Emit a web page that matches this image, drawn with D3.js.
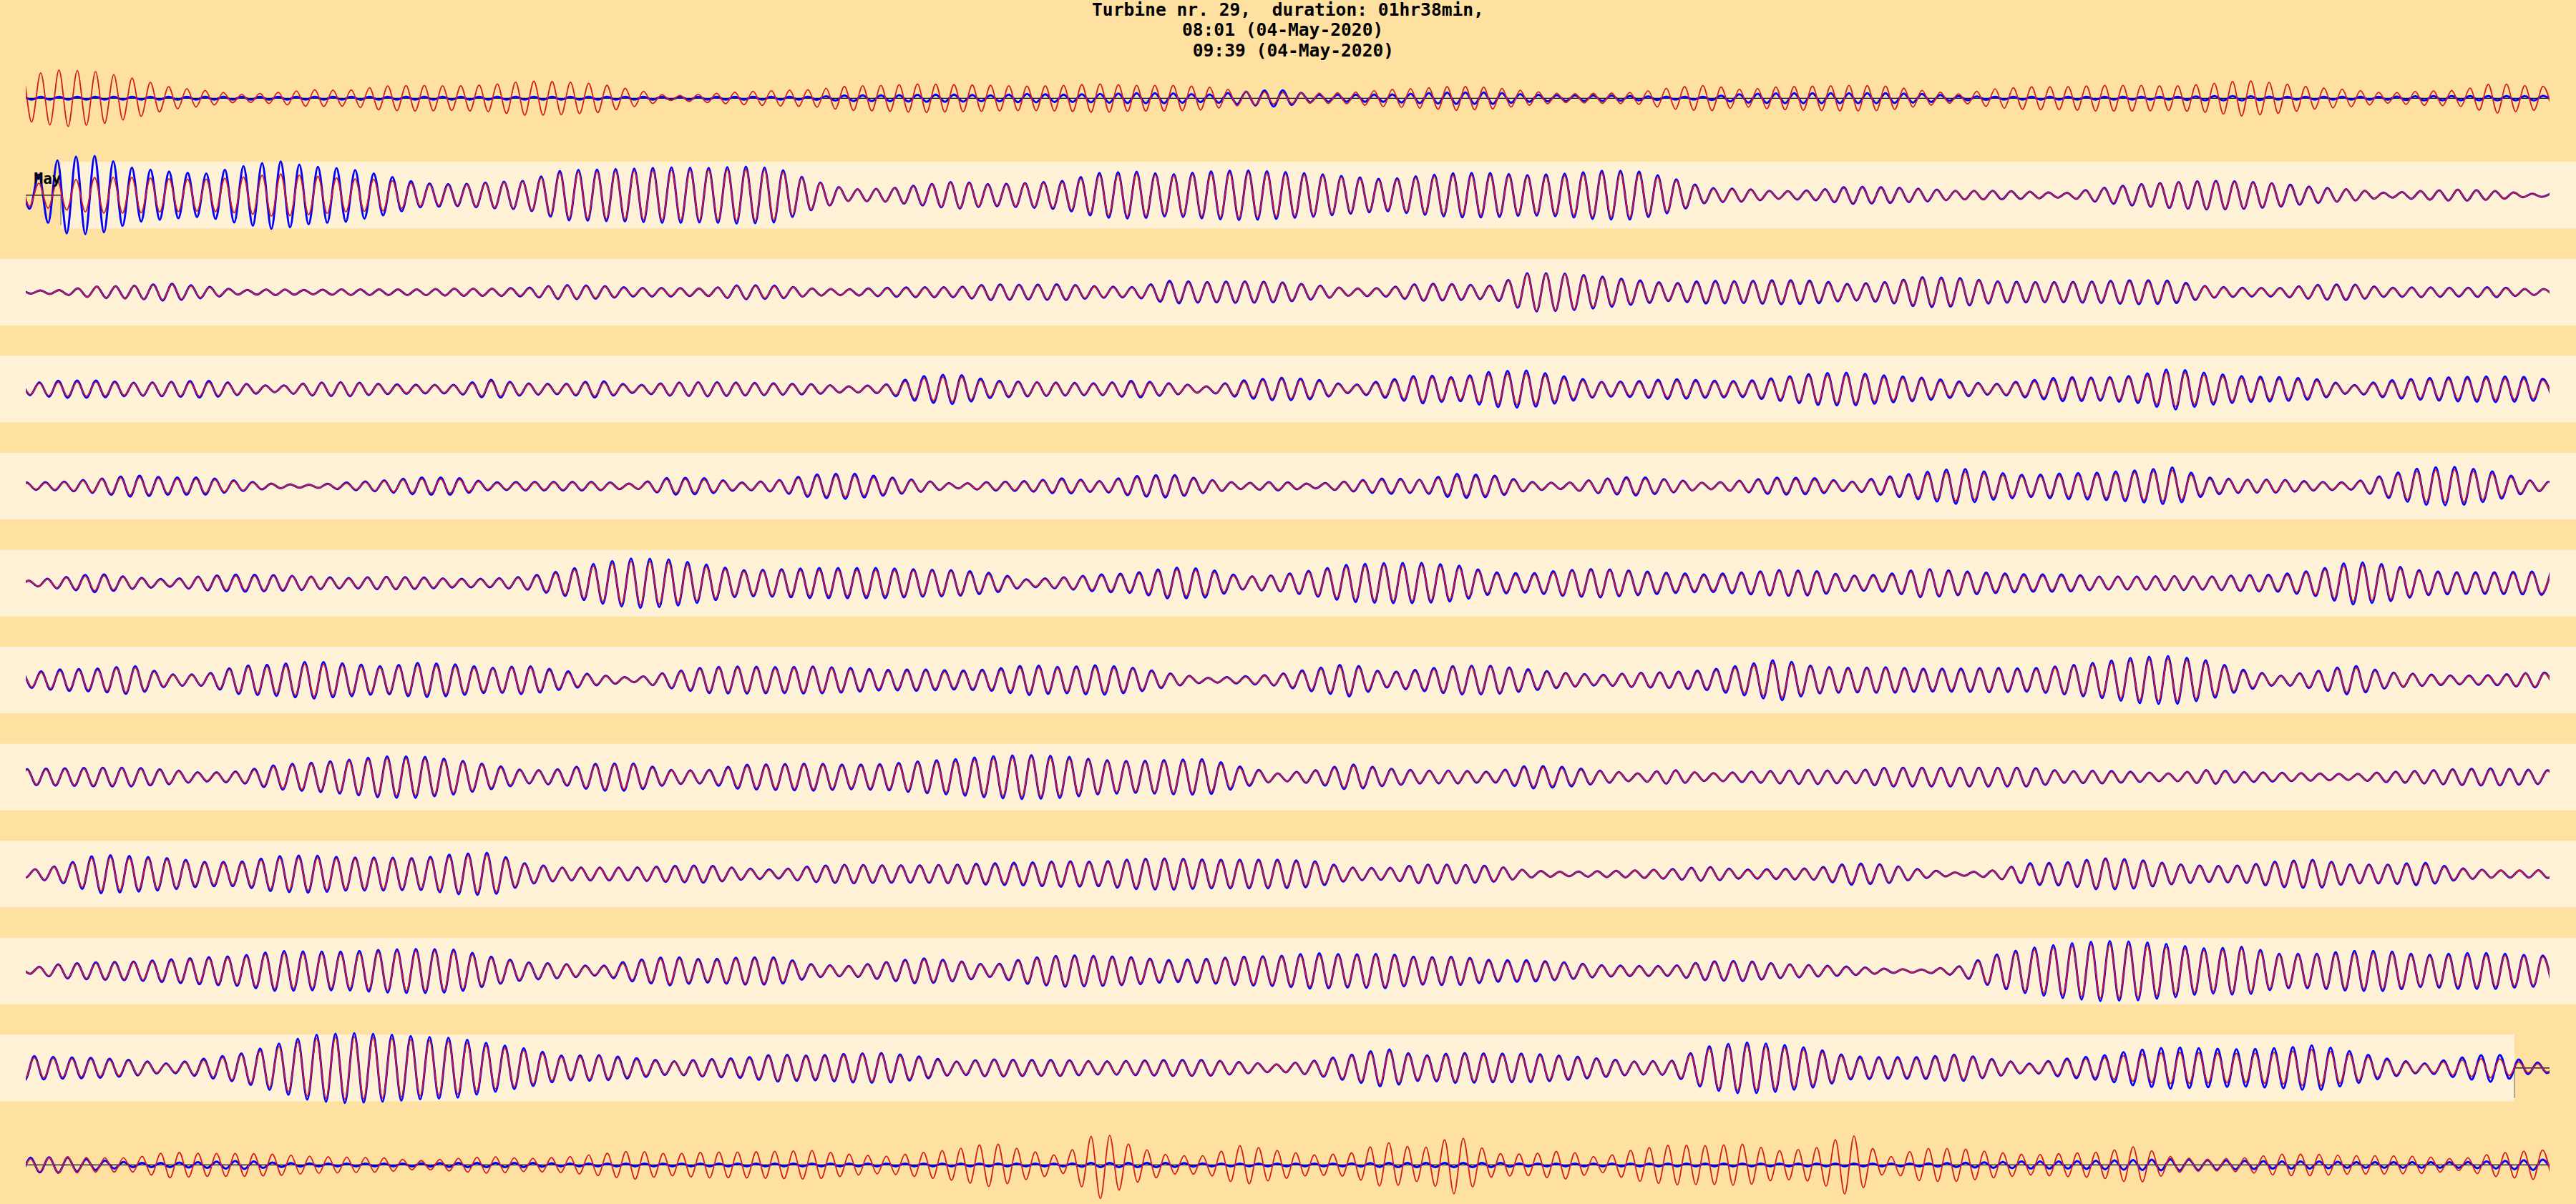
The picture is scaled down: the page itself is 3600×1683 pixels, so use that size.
<!DOCTYPE html>
<html>
<head>
<meta charset="utf-8">
<script src="https://cdn.jsdelivr.net/npm/d3@7"></script>
<style>
  html, body { margin: 0; padding: 0; background: #fee0a0; }
  svg { display: block; }
</style>
</head>
<body>
<svg id="chart" width="3600" height="1683"></svg>
<script>
// ---------------- DATA ----------------
const titleLines = ["Turbine nr. 29,  duration: 01hr38min,", "08:01 (04-May-2020) ", " 09:39 (04-May-2020)"];
const tickLabel = "May";
const rowSeconds = 590;          // seconds of record per wrapped row
const envelopeStep = 8.364;      // seconds between successive envelope readings
// wave period (s) and time of first crest (s) for each row
const periods = [4.27, 4.35, 4.4, 4.4, 4.4, 4.4, 4.4, 4.43, 4.4, 4.4, 4.4, 4.35];
const firstCrest = [3.5, 3.05, 3.4, 3.2, 0.2, 0.7, 3.6, 0.3, 2.2, 3.2, 2.0, 1.1];
// shaded record period: starts in row 1 (0-based) and ends in row 10
const bandStart = {row: 1, t: 8.2};
const bandEnd = {row: 10, t: 581.8};

// crest amplitude envelopes, red series (one reading per envelopeStep)
const redEnvelope = [
  [32,40,37,28,16,11,5,8,12,11,17,18,17,19,24,23,20,12,3,6,9,11,12,17,18,20,19,18,17,18,20,18,18,16,10,8, 7,8,12,14,17,15,10,6,7,8,15,18,12,16,17,18,17,11,6,13,16,16,18,18,17,20,25,21,15,12,7,10,11,21,17,16],
  [15,20,25,25,23,22,25,30,27,23,22,15,14,17,19,32,33,34,35,35,36,35,19,8,9,13,18,14,16,18,28,30,27,30,32,30, 28,24,20,25,28,28,26,27,31,31,22,9,8,5,6,11,10,8,6,6,5,3,9,14,17,19,18,15,10,8,3,6,8,6,2,3],
  [2,3,8,9,11,7,3,4,3,4,4,4,5,5,5,9,8,5,5,5,9,8,5,4,5,6,6,10,9,10,7,6,14,13,14,13, 9,5,5,11,10,8,26,25,20,15,11,14,14,15,14,10,13,19,18,14,13,13,14,15,14,7,5,5,9,10,5,6,5,6,4,5],
  [7,10,10,8,9,10,7,4,8,9,6,5,5,11,7,6,10,4,8,9,8,7,6,4,5,15,18,10,9,8,7,10,7,4,10,14, 12,4,10,17,14,21,22,15,9,9,12,10,9,14,19,20,16,14,9,6,10,14,14,16,25,19,15,14,12,4,10,13,14,15,14,9],
  [4,5,9,13,10,10,6,3,2,4,7,10,10,4,5,5,5,3,10,9,4,7,14,15,11,7,3,5,6,9,6,12,14,8,4,5, 3,6,9,8,14,13,5,4,9,11,8,4,7,10,9,5,11,16,21,16,13,15,16,19,22,10,8,8,5,4,14,22,23,17,7,4],
  [3,7,11,7,4,9,10,10,8,6,8,7,5,5,8,15,25,31,29,23,16,17,18,18,18,17,16,12,4,7,10,12,19,17,8,10, 16,23,25,25,22,13,11,16,18,15,12,10,13,16,15,9,10,18,15,12,10,10,8,8,9,8,10,10,16,26,23,15,13,13,14,15],
  [9,13,14,18,7,7,18,19,23,20,17,21,19,15,18,11,6,3,10,16,17,16,17,15,12,13,11,13,18,16,18,15,8,3,4,7, 14,20,9,13,18,18,13,9,6,9,10,12,18,25,17,15,16,14,14,15,14,18,22,28,30,24,12,5,11,18,10,7,5,6,9,10],
  [10,11,12,12,9,5,7,15,18,22,26,26,22,15,8,10,17,17,9,8,15,16,17,15,16,20,22,26,28,26,22,20,22,22,12,5, 8,16,11,8,8,6,14,12,8,5,9,5,6,8,9,7,12,12,12,12,12,7,8,6,5,9,6,5,5,4,6,8,10,11,9,8],
  [5,11,24,22,20,15,15,22,23,21,21,20,25,27,13,8,8,8,10,11,7,5,10,12,11,11,12,13,14,16,15,19,20,18,18,18, 16,8,7,12,12,10,5,3,4,5,6,9,5,6,7,13,12,5,2,5,13,14,20,18,13,10,11,16,18,12,12,14,7,5,5,5],
  [3,9,11,12,14,17,19,25,24,24,27,28,27,18,11,9,5,13,18,14,17,17,8,6,11,16,13,7,16,20,19,17,13,15,18,19, 22,21,22,17,18,13,13,11,7,6,6,12,13,9,7,5,3,2,5,20,29,34,38,37,33,28,31,22,22,25,25,20,22,22,20,19],
  [15,13,12,10,5,11,18,29,41,44,42,39,37,30,24,15,16,12,8,11,12,17,15,18,19,14,8,11,10,10,8,9,10,10,7,5, 9,16,24,15,19,18,18,15,12,8,9,27,32,29,24,14,13,13,17,11,5,11,14,19,22,21,20,22,26,19,11,5,11,14,6,5],
  [8,12,10,10,18,16,16,15,12,11,10,6,9,12,9,11,15,20,15,18,18,19,20,15,12,17,22,31,20,12,48,25,13,13,28,20, 14,16,32,22,42,16,15,20,10,22,28,27,29,20,23,44,10,23,23,18,14,16,18,26,11,8,10,15,15,13,13,12,8,16,20,22]
];
// crest amplitude envelopes, blue series
const blueEnvelope = [
  [2,2,2,2,2,2,2,2,2,2,2,2,2,2,2,2,2,2,2,2,2,2,2,4,4,5,5,4,6,5,6,7,7,5,9,12, 5,5,5,7,8,8,5,4,4,3,2,2,6,7,7,7,7,6,3,2,2,2,2,2,2,3,3,2,2,2,2,3,3,3,3,4],
  [15,53,55,38,33,30,40,48,40,37,28,17,15,18,20,35,36,37,39,38,40,38,20,8,9,14,19,15,17,20,31,33,29,33,35,33, 30,26,22,27,31,31,28,30,34,34,24,10,9,5,7,12,11,9,6,6,5,3,10,15,18,20,19,16,11,8,3,6,8,6,2,3],
  [2,3,8,9,12,8,3,4,3,4,4,4,5,5,6,10,9,6,6,5,10,9,5,4,6,7,7,11,10,11,8,7,16,14,15,14, 10,5,6,12,11,9,27,26,22,17,12,16,15,17,16,11,14,21,20,15,14,14,15,17,16,8,6,6,10,11,6,7,6,7,4,5],
  [8,12,12,9,10,12,8,4,9,10,7,6,6,13,8,7,12,5,9,10,9,8,7,4,6,18,21,12,10,9,8,12,8,4,12,16, 14,5,12,20,16,25,26,18,10,11,14,12,11,16,22,23,19,16,11,7,12,17,16,19,29,22,18,17,14,5,12,15,17,18,17,10],
  [5,6,10,15,12,12,7,3,2,5,8,12,12,5,6,6,6,3,12,11,5,8,16,18,13,8,3,6,7,11,7,14,16,9,4,6, 3,7,11,9,17,15,6,4,10,13,9,4,8,12,11,6,13,19,25,19,15,18,19,22,26,12,9,9,6,5,16,26,27,20,8,4],
  [3,8,13,8,5,10,12,11,9,7,9,8,6,6,9,17,28,35,33,26,18,19,21,21,21,19,18,14,5,8,12,14,22,20,9,11, 18,26,28,28,25,15,13,18,20,17,14,12,15,18,17,10,12,20,17,14,12,12,9,9,10,9,11,12,18,30,26,17,15,15,16,17],
  [10,15,16,20,8,8,20,22,26,23,19,24,22,17,20,13,7,3,11,18,19,18,19,17,14,15,13,15,21,18,21,17,9,3,5,8, 16,23,10,15,20,20,15,10,7,10,11,14,21,29,19,17,18,16,16,17,16,20,25,32,34,27,14,6,12,21,11,8,6,7,10,11],
  [11,12,13,13,10,6,8,17,20,24,29,29,24,17,9,11,19,19,10,9,17,18,19,17,18,22,25,29,31,29,24,22,24,25,14,5, 9,18,12,9,9,7,16,14,9,5,10,5,7,9,10,8,13,13,13,13,13,8,9,7,5,10,7,6,5,4,7,9,11,12,10,9],
  [5,12,27,25,22,17,17,25,26,23,23,22,28,30,14,9,9,9,11,12,8,6,11,13,12,12,13,15,16,18,17,21,22,20,20,20, 18,9,8,13,13,11,5,3,4,5,7,10,6,7,8,15,13,6,2,5,15,16,22,20,14,11,12,18,20,13,13,16,8,5,5,6],
  [3,10,12,13,16,19,21,28,27,27,30,31,30,20,12,10,6,15,20,16,19,19,9,7,12,18,14,8,18,22,21,19,15,17,20,21, 25,23,24,19,20,15,15,12,8,7,7,13,14,10,8,6,3,2,6,22,32,38,42,41,37,31,34,24,24,28,28,22,25,25,22,21],
  [17,15,14,11,6,13,20,33,46,49,47,44,42,34,27,17,18,14,9,12,14,19,17,20,21,16,9,12,11,11,9,10,11,11,8,5, 10,18,27,17,21,20,20,17,13,9,10,30,36,33,27,16,15,15,19,12,6,13,17,25,29,27,26,28,32,23,13,6,14,20,8,6],
  [10,11,7,3,3,4,6,3,2,2,2,2,3,3,3,2,2,2,2,2,2,2,2,2,2,2,2,2,2,2,3,3,3,2,2,2, 2,2,3,3,3,3,2,2,2,2,2,2,2,2,2,2,2,2,3,4,5,5,6,7,8,7,6,5,5,4,4,4,4,5,7,8]
];

// ---------------- LAYOUT / STYLE ----------------
const W = 3600, H = 1683;
const plotLeft = 36, plotRight = 3563;
const firstRowY = 137.3, lastRowY = 1628.4;
const bandHalf = 46.6;
const colors = {bg: "#fee0a0", band: "#fff1d6", red: "#d41c1c", blue: "#0000ff", axis: "#000000", tick: "#7a7a7a"};

const svg = d3.select("#chart");
const x = d3.scaleLinear().domain([0, rowSeconds]).range([plotLeft, plotRight]);
const rowY = d3.scaleLinear().domain([0, periods.length - 1]).range([firstRowY, lastRowY]);
const amp = d3.scaleLinear().domain([-60, 60]).range([60, -60]);

svg.append("rect").attr("width", W).attr("height", H).attr("fill", colors.bg);

svg.append("defs").append("clipPath").attr("id", "plotclip")
  .append("rect").attr("x", plotLeft).attr("y", 0).attr("width", plotRight - plotLeft).attr("height", H);

const rows = d3.range(periods.length);

// zero lines
svg.append("g").selectAll("line").data(rows).join("line")
  .attr("x1", x(0)).attr("x2", x(rowSeconds))
  .attr("y1", r => rowY(r)).attr("y2", r => rowY(r))
  .attr("stroke", colors.axis).attr("stroke-width", 1.3);

// shaded record period
const bandRows = rows.filter(r => r >= bandStart.row && r <= bandEnd.row);
svg.append("g").selectAll("rect").data(bandRows).join("rect")
  .attr("x", r => r === bandStart.row ? x(bandStart.t) : 0)
  .attr("width", r => (r === bandEnd.row ? x(bandEnd.t) : W) - (r === bandStart.row ? x(bandStart.t) : 0))
  .attr("y", r => rowY(r) + amp(bandHalf))
  .attr("height", amp(-bandHalf) - amp(bandHalf))
  .attr("fill", colors.band);

// start / end ticks
svg.append("g").selectAll("line").data([bandStart, bandEnd]).join("line")
  .attr("x1", d => x(d.t)).attr("x2", d => x(d.t))
  .attr("y1", d => rowY(d.row)).attr("y2", d => rowY(d.row) + amp(-42))
  .attr("stroke", colors.tick).attr("stroke-width", 1.2);

// build crest/trough sequence for a row from its envelope readings
function rowPoints(r, env) {
  const times = env.map((_, k) => k * envelopeStep);
  const envelope = d3.scaleLinear().domain(times).range(env).clamp(true);
  const half = periods[r] / 2;
  const pts = [];
  let n = Math.floor(-firstCrest[r] / half) - 1;
  for (; ; n++) {
    const t = firstCrest[r] + n * half;
    if (t > rowSeconds + half) break;
    const sign = (((n % 2) + 2) % 2 === 0) ? 1 : -1;
    pts.push({t: t, v: sign * envelope(t)});
  }
  return pts;
}

const lineGroup = svg.append("g").attr("clip-path", "url(#plotclip)");
function drawSeries(envs, color, width) {
  rows.forEach(r => {
    const line = d3.line()
      .x(d => x(d.t))
      .y(d => rowY(r) + amp(d.v))
      .curve(d3.curveMonotoneX);
    lineGroup.append("path")
      .datum(rowPoints(r, envs[r]))
      .attr("d", line)
      .attr("fill", "none")
      .attr("stroke", color)
      .attr("stroke-width", width)
      .attr("stroke-linejoin", "round");
  });
}
drawSeries(blueEnvelope, colors.blue, 3.0);
drawSeries(redEnvelope, colors.red, 1.8);

// tick label
svg.append("text")
  .attr("x", x(bandStart.t) + 0.5).attr("y", rowY(bandStart.row) - 15.5)
  .attr("text-anchor", "end")
  .attr("font-family", "DejaVu Sans Mono")
  .attr("font-weight", "bold")
  .attr("font-size", 21)
  .attr("fill", "#000")
  .text(tickLabel);

// title
svg.append("g").selectAll("text").data(titleLines).join("text")
  .attr("x", W / 2)
  .attr("y", (d, i) => 21.5 + i * 28.5)
  .attr("text-anchor", "middle")
  .attr("font-family", "DejaVu Sans Mono")
  .attr("font-weight", "bold")
  .attr("font-size", 24.6)
  .attr("fill", "#000")
  .style("white-space", "pre")
  .text(d => d);
</script>
</body>
</html>
